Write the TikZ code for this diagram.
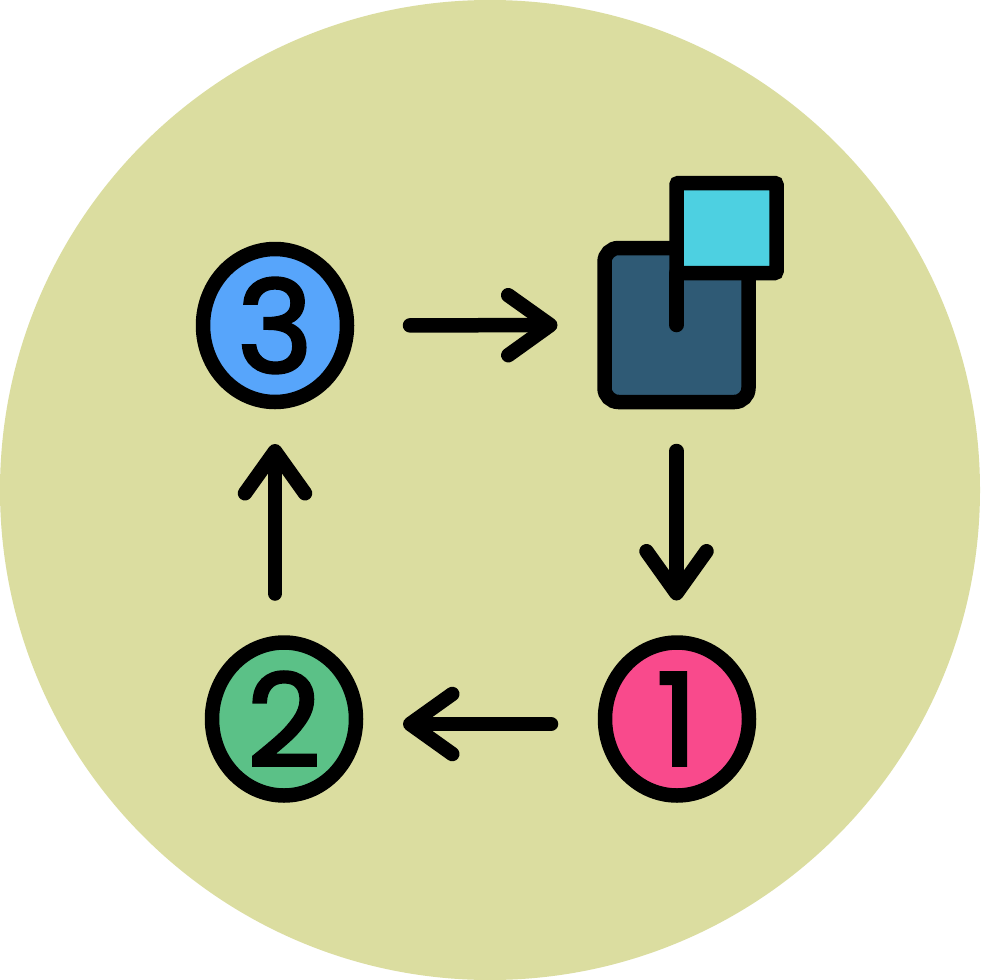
\documentclass[tikz,border=0pt]{standalone}
\usepackage{fontspec}
\usetikzlibrary{shapes.geometric,arrows.meta}
\newfontfamily\digitfont[FakeBold=2.6]{Poppins}
\definecolor{bgdisc}{HTML}{DBDDA0}
\definecolor{bluefill}{HTML}{57A5FB}
\definecolor{greenfill}{HTML}{5BC187}
\definecolor{pinkfill}{HTML}{F94A8C}
\definecolor{navyfill}{HTML}{2F5A75}
\definecolor{cyanfill}{HTML}{4DD0E1}
\tikzset{
  stroke/.style={draw=black,line width=14.5pt},
  badge/.style={stroke,ellipse,inner sep=0pt,outer sep=0pt,minimum width=144pt,minimum height=153pt,
    font=\digitfont\fontsize{128}{128}\selectfont},
  flow/.style={draw=black,line width=14.5pt,line cap=round,
    -{Straight Barb[length=42pt,width=60pt,round]}},
}
\begin{document}
\begin{tikzpicture}[x=1pt,y=-1pt]
\useasboundingbox (0,0) rectangle (980,980);
\fill[white] (0,0) rectangle (980,980);
\fill[bgdisc] (490,490) circle[radius=490pt];
% numbered badges
\node[badge,fill=bluefill] (n3) at (275,325.5) {3};
\node[badge,fill=greenfill] (n2) at (284,719) {2};
\node[badge,fill=pinkfill] (n1) at (677,719) {1};
% overlapping squares
\node[stroke,fill=navyfill,rectangle,rounded corners=14pt,inner sep=0pt,outer sep=0pt,minimum width=144pt,minimum height=154pt] (sq) at (676.5,325) {};
\node[stroke,fill=cyanfill,rectangle,rounded corners=2pt,inner sep=0pt,outer sep=0pt,minimum width=100pt,minimum height=90pt] (top) at (726.5,228) {};
\coordinate (stem) at (676.5,325);
\draw[black,line width=14.5pt,line cap=round] (top.south west) -- (stem);
% cycle arrows
\draw[flow,shorten <=63pt,shorten >=47pt] (n3.east) -- (sq.west);
\draw[flow,shorten <=49pt,shorten >=42pt] (sq.south) -- (n1.north -| sq.south);
\draw[flow,shorten <=54pt,shorten >=47pt] ([yshift=-5pt]n1.west) -- ([yshift=-5pt]n2.east);
\draw[flow,shorten <=49pt,shorten >=42pt] (n2.north -| n3.south) -- (n3.south);
\end{tikzpicture}
\end{document}
